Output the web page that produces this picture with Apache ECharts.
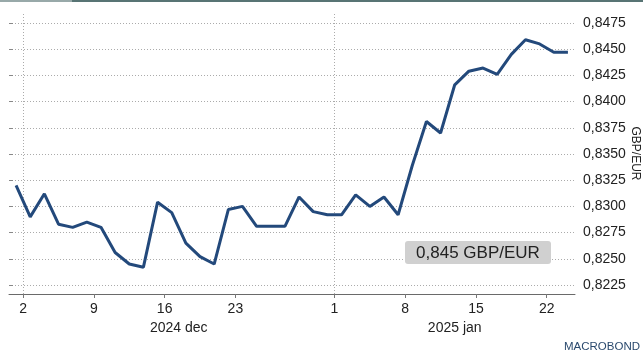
<!DOCTYPE html>
<html>
<head>
<meta charset="utf-8">
<script src="https://cdn.jsdelivr.net/npm/echarts@6/dist/echarts.min.js"></script>
<style>
html,body{margin:0;padding:0;background:#fff;}
#c{width:643px;height:355px;}
</style>
</head>
<body>
<div id="c"></div>
<script>
// Trading days (weekdays) shown on the chart
var dates = [
  '2024-11-29',
  '2024-12-02','2024-12-03','2024-12-04','2024-12-05','2024-12-06',
  '2024-12-09','2024-12-10','2024-12-11','2024-12-12','2024-12-13',
  '2024-12-16','2024-12-17','2024-12-18','2024-12-19','2024-12-20',
  '2024-12-23','2024-12-24','2024-12-25','2024-12-26','2024-12-27',
  '2024-12-30','2024-12-31',
  '2025-01-01','2025-01-02','2025-01-03',
  '2025-01-06','2025-01-07','2025-01-08','2025-01-09','2025-01-10',
  '2025-01-13','2025-01-14','2025-01-15','2025-01-16','2025-01-17',
  '2025-01-20','2025-01-21','2025-01-22','2025-01-23'
];
// GBP/EUR values
var values = [
  0.8320,
  0.8290, 0.8312, 0.8283, 0.8280, 0.8285,
  0.8280, 0.8256, 0.8245, 0.8242, 0.8304,
  0.8294, 0.8265, 0.8252, 0.8245, 0.8297,
  0.8300, 0.8281, 0.8281, 0.8281, 0.8309,
  0.8295, 0.8292,
  0.8292, 0.8311, 0.8300,
  0.8309, 0.8292, 0.8339, 0.8381, 0.8370,
  0.8416, 0.8429, 0.8432, 0.8426, 0.8445,
  0.8459, 0.8455, 0.8447, 0.8447
];
var tickDates = ['2024-12-02','2024-12-09','2024-12-16','2024-12-23','2025-01-01','2025-01-08','2025-01-15','2025-01-22'];
var tickLabels = ['2','9','16','23','1','8','15','22'];
var monthKeys = ['2024-12','2025-01'];
var monthLabels = ['2024 dec','2025 jan'];
var yTicks = [0.8225, 0.8250, 0.8275, 0.8300, 0.8325, 0.8350, 0.8375, 0.8400, 0.8425, 0.8450, 0.8475];
var yMin = 0.82164, yMax = 0.84845;
var unitLabel = 'GBP/EUR';

var FONT = "'Liberation Sans', Arial, sans-serif";

// x value of each point = band centre of its trading day
var seriesData = values.map(function (v, i) { return [i + 0.5, v]; });
var tickPos = tickDates.map(function (d) { return dates.indexOf(d); });
var monthStart = monthKeys.map(function (m) {
  for (var i = 0; i < dates.length; i++) if (dates[i].indexOf(m) === 0) return i;
  return 0;
});
var monthCenters = monthKeys.map(function (m, k) {
  var end = (k + 1 < monthKeys.length) ? monthStart[k + 1] : dates.length;
  return (monthStart[k] + end) / 2;
});
function fmtComma(v, d) { return v.toFixed(d).replace('.', ','); }

var chart = echarts.init(document.getElementById('c'), null, {renderer: 'canvas'});
var lastVal = values[values.length - 1];

chart.setOption({
  animation: false,
  backgroundColor: '#ffffff',
  grid: {left: 9, right: 68, top: 13, bottom: 61, containLabel: false, outerBoundsMode: 'none'},
  xAxis: [{
    type: 'value',
    min: 0,
    max: dates.length,
    position: 'bottom',
    axisLine: {show: true, onZero: false, lineStyle: {color: '#6a6a6a', width: 1}},
    axisTick: {show: true, length: 4, customValues: tickPos, lineStyle: {color: '#777'}},
    axisLabel: {
      show: true, customValues: tickPos, margin: 8,
      fontFamily: FONT, fontSize: 14, color: '#222',
      formatter: function (v) { var k = tickPos.indexOf(v); return k >= 0 ? tickLabels[k] : ''; }
    },
    splitLine: {show: false}
  }, {
    type: 'value',
    min: 0,
    max: dates.length,
    position: 'bottom',
    offset: 19,
    axisLine: {show: false},
    axisTick: {show: false, customValues: monthCenters},
    axisLabel: {
      show: true, customValues: monthCenters, margin: 8,
      fontFamily: FONT, fontSize: 14, color: '#222',
      formatter: function (v) { var k = monthCenters.indexOf(v); return k >= 0 ? monthLabels[k] : ''; }
    },
    splitLine: {show: false}
  }],
  yAxis: {
    type: 'value',
    position: 'right',
    min: yMin,
    max: yMax,
    name: unitLabel,
    nameLocation: 'middle',
    nameRotate: -90,
    nameGap: 54,
    nameMoveOverlap: false,
    nameTextStyle: {fontFamily: FONT, fontSize: 12, color: '#222'},
    axisLine: {show: false},
    axisTick: {show: true, length: 4, customValues: yTicks, lineStyle: {color: '#888'}},
    axisLabel: {
      show: true, customValues: yTicks, margin: 8,
      fontFamily: FONT, fontSize: 14, color: '#222',
      formatter: function (v) { return fmtComma(v, 4); }
    },
    splitLine: {show: true, lineStyle: {color: '#ababab', width: 1, type: [1, 2]}}
  },
  series: [{
    type: 'line',
    data: seriesData,
    showSymbol: false,
    symbol: 'none',
    smooth: false,
    lineStyle: {color: '#23497b', width: 3},
    markLine: {
      silent: true,
      symbol: ['none', 'none'],
      label: {show: false},
      lineStyle: {color: '#ababab', width: 1, type: [1, 2]},
      data: monthStart.map(function (i) { return {xAxis: i}; })
    },
    z: 5
  }],
  graphic: [
    {type: 'rect', left: 0, top: 0, shape: {width: 72, height: 2}, style: {fill: '#98a9a9'}},
    {type: 'rect', left: 72, top: 0, shape: {width: 571, height: 2}, style: {fill: '#587474'}},
    {type: 'rect', left: 405, top: 241, shape: {width: 146, height: 23, r: 3}, style: {fill: '#d0d0d0'}, z: 10},
    {type: 'text', x: 478, y: 253, z: 11,
      style: {text: fmtComma(lastVal, 3) + ' ' + unitLabel, font: '17px ' + FONT, fill: '#222',
        textAlign: 'center', textVerticalAlign: 'middle', align: 'center', verticalAlign: 'middle'}},
    {type: 'text', right: 3, bottom: 2, z: 11,
      style: {text: 'MACROBOND', font: '11.5px ' + FONT, fill: '#2b4a6e'}}
  ]
});
</script>
</body>
</html>
